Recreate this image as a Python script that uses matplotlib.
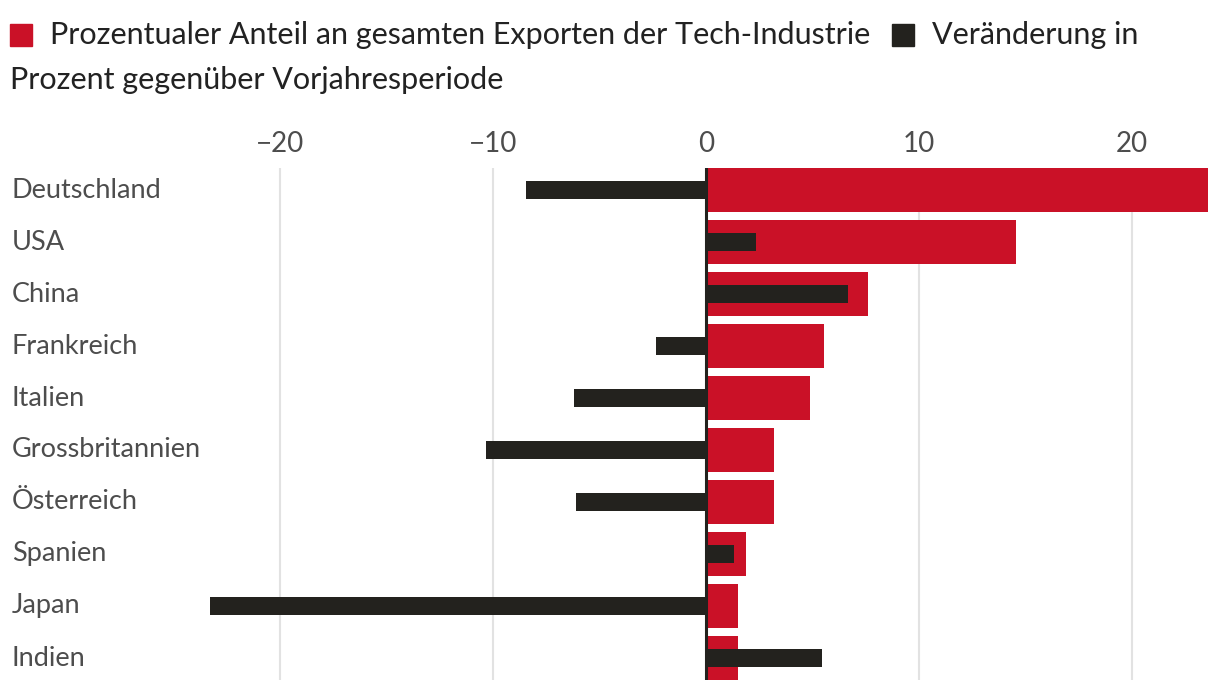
import matplotlib
matplotlib.use("Agg")
import matplotlib.pyplot as plt
from matplotlib.patches import Rectangle
import numpy as np

plt.rcParams['font.family'] = ['Lato', 'DejaVu Sans']

countries = ["Deutschland", "USA", "China", "Frankreich", "Italien",
             "Grossbritannien", "Österreich", "Spanien", "Japan", "Indien"]
share = [23.57, 14.55, 7.6, 5.54, 4.88, 3.19, 3.19, 1.88, 1.5, 1.5]
change = [-8.45, 2.35, 6.67, -2.35, -6.2, -10.33, -6.1, 1.31, -23.29, 5.45]
ticks = [-20, -10, 0, 10, 20]

red = "#CA1127"
dark = "#23221E"
grey_text = "#4d4d4d"

W, H = 1220, 692
fig = plt.figure(figsize=(W / 100, H / 100), dpi=100)

# axes spans pixel x 10..1208, y 168..680
x0, x1 = 10, 1208
y_top, y_bot = 168, 680
ax = fig.add_axes([x0 / W, 1 - y_bot / H, (x1 - x0) / W, (y_bot - y_top) / H])

scale = 21.3  # px per unit
xmin = -(706 - x0) / scale
xmax = (x1 - 706) / scale

y = np.arange(len(countries))
ax.barh(y, share, height=44 / 52, color=red, zorder=2)
ax.barh(y, change, height=18 / 52, color=dark, zorder=3)
ax.axvline(0, color=dark, lw=2.2, zorder=4)

ax.set_xlim(xmin, xmax)
half = 22 / 52
ax.set_ylim(len(countries) - 1 + half, -half)

ax.set_xticks(ticks)
ax.set_xticklabels([str(t).replace("-", "\u2212") for t in ticks])
ax.xaxis.tick_top()
ax.tick_params(axis="x", length=0, pad=8, labelsize=20, labelcolor=grey_text)
ax.set_yticks([])
for t in ticks:
    if t != 0:
        ax.axvline(t, color="#e2e2e2", lw=1.5, zorder=1)
for s in ax.spines.values():
    s.set_visible(False)

for i, name in enumerate(countries):
    ax.text(2 / (x1 - x0), i, name, transform=ax.get_yaxis_transform(),
            ha="left", va="center", fontsize=19.5, color=grey_text)

# legend drawn by hand so it wraps like the original
fs = 22
fig.patches.append(Rectangle((10 / W, 1 - 46 / H), 22 / W, 22 / H,
                             transform=fig.transFigure, color=red))
t1 = fig.text(50 / W, 1 - 35 / H, "Prozentualer Anteil an gesamten Exporten der Tech-Industrie",
              ha="left", va="center", fontsize=fs, color="#222222")
renderer = fig.canvas.get_renderer()
end = t1.get_window_extent(renderer).x1
fig.patches.append(Rectangle(((end + 22) / W, 1 - 46 / H), 22 / W, 22 / H,
                             transform=fig.transFigure, color=dark))
fig.text((end + 62) / W, 1 - 35 / H, "Veränderung in",
         ha="left", va="center", fontsize=fs, color="#222222")
fig.text(10 / W, 1 - 80 / H, "Prozent gegenüber Vorjahresperiode",
         ha="left", va="center", fontsize=fs, color="#222222")

fig.savefig("out.png", dpi=100)
